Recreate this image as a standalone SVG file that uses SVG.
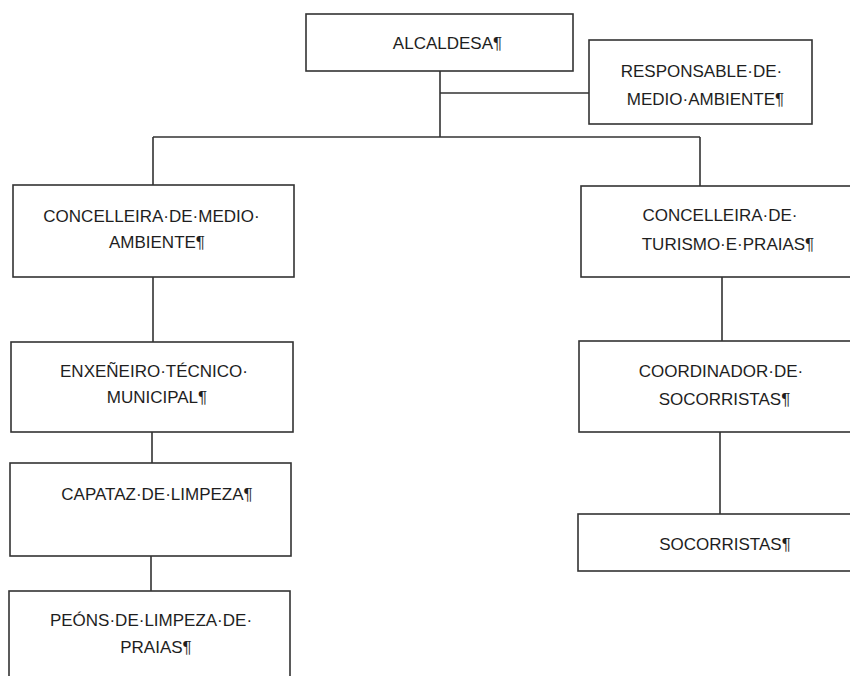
<svg xmlns="http://www.w3.org/2000/svg" width="850" height="676" viewBox="0 0 850 676">
<style>
.box{fill:#fff;stroke:#333;stroke-width:1.6}
.lbl{font-family:"Liberation Sans",Arial,sans-serif;font-size:17px;fill:#1e1e1e;text-anchor:middle}
.conn{fill:none;stroke:#333;stroke-width:1.6}
</style>
<rect width="850" height="676" fill="#fff"/>
<g id="connectors">
<path class="conn" d="M440 71V137M440 93H589M153 137H700M153 137V185M700 137V186"/>
<path class="conn" d="M153 277V342M152 432V463M151 556V591"/>
<path class="conn" d="M722 277V341M720 432V514"/>
</g>
<g id="alcaldesa">
<rect class="box" x="306" y="14" width="267" height="57"/>
<text class="lbl" x="447.5" y="49">ALCALDESA¶</text>
</g>
<g id="responsable">
<rect class="box" x="589" y="40" width="223" height="84"/>
<text class="lbl" x="701.5" y="77">RESPONSABLE·DE·</text>
<text class="lbl" x="705.5" y="105">MEDIO·AMBIENTE¶</text>
</g>
<g id="concelleira-medio">
<rect class="box" x="13" y="185" width="281" height="92"/>
<text class="lbl" x="151.5" y="222">CONCELLEIRA·DE·MEDIO·</text>
<text class="lbl" x="157" y="248">AMBIENTE¶</text>
</g>
<g id="enxeneiro">
<rect class="box" x="11" y="342" width="282" height="90"/>
<text class="lbl" x="154" y="377">ENXEÑEIRO·TÉCNICO·</text>
<text class="lbl" x="157" y="403">MUNICIPAL¶</text>
</g>
<g id="capataz">
<rect class="box" x="10" y="463" width="281" height="93"/>
<text class="lbl" x="157" y="500">CAPATAZ·DE·LIMPEZA¶</text>
</g>
<g id="peons">
<rect class="box" x="9" y="591" width="281" height="95"/>
<text class="lbl" x="151" y="626">PEÓNS·DE·LIMPEZA·DE·</text>
<text class="lbl" x="156" y="653">PRAIAS¶</text>
</g>
<g id="concelleira-turismo">
<rect class="box" x="581" y="186" width="280" height="91"/>
<text class="lbl" x="720" y="221">CONCELLEIRA·DE·</text>
<text class="lbl" x="728" y="250">TURISMO·E·PRAIAS¶</text>
</g>
<g id="coordinador">
<rect class="box" x="579" y="341" width="282" height="91"/>
<text class="lbl" x="721" y="377">COORDINADOR·DE·</text>
<text class="lbl" x="724.5" y="405">SOCORRISTAS¶</text>
</g>
<g id="socorristas">
<rect class="box" x="578" y="514" width="283" height="57"/>
<text class="lbl" x="725" y="550">SOCORRISTAS¶</text>
</g>
</svg>
